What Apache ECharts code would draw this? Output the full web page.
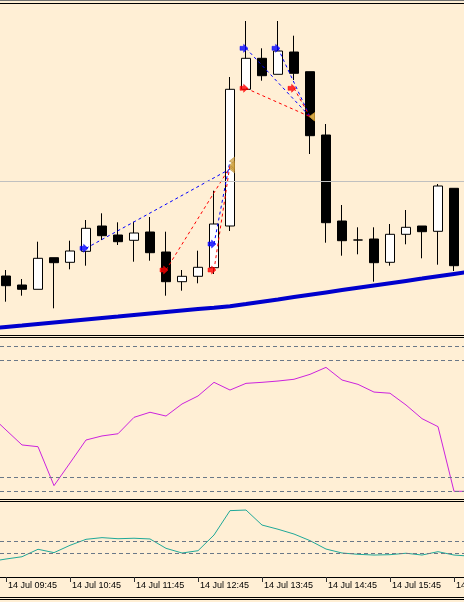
<!DOCTYPE html>
<html><head><meta charset="utf-8">
<script src="https://cdn.jsdelivr.net/npm/echarts@6/dist/echarts.min.js"></script>
<style>html,body{margin:0;padding:0;background:#FFEFD5}#c{width:464px;height:602px}</style>
</head><body><div id="c"></div>
<script>
// ---- data ----
const candleTimes = ['09:45','10:00','10:15','10:30','10:45','11:00','11:15','11:30','11:45','12:00','12:15','12:30','12:45','13:00','13:15','13:30','13:45','14:00','14:15','14:30','14:45','15:00','15:15','15:30','15:45','16:00','16:15','16:30','16:45'];
const tickIndex = [0,4,8,12,16,20,24,28];
const tickLabels = ['14 Jul 09:45','14 Jul 10:45','14 Jul 11:45','14 Jul 12:45','14 Jul 13:45','14 Jul 14:45','14 Jul 15:45','14 Jul 16:45'];

const opens  = [87.550,87.460,87.417,87.733,87.687,87.797,88.050,87.960,87.907,87.990,87.790,87.493,87.547,87.633,88.050,89.417,89.727,89.567,89.790,89.593,88.960,88.100,87.910,87.920,87.687,87.967,88.050,87.997,88.427];
const highs  = [87.610,87.520,87.893,87.733,87.903,88.110,88.177,88.087,88.093,88.140,87.993,87.610,87.803,88.403,89.540,90.100,89.827,90.100,89.953,89.593,89.070,88.260,88.037,88.037,88.070,88.210,88.050,88.470,88.427];
const lows   = [87.293,87.353,87.417,87.227,87.617,87.653,87.910,87.860,87.693,87.703,87.353,87.403,87.477,87.570,88.000,89.417,89.503,89.567,89.510,88.770,87.883,87.753,87.767,87.493,87.653,87.867,87.727,87.663,87.600];
const closes = [87.453,87.417,87.727,87.683,87.800,88.027,87.953,87.893,87.980,87.783,87.493,87.547,87.637,88.070,89.417,89.727,89.553,89.800,89.577,88.953,88.083,87.903,87.910,87.683,87.967,88.037,87.993,88.450,87.653];

// indicator values at bar index -1 .. 29 (first and last lie just beyond the visible edges)
const lineIndex = [-1,0,1,2,3,4,5,6,7,8,9,10,11,12,13,14,15,16,17,18,19,20,21,22,23,24,25,26,27,28,29];
const maValues = [87.026,87.041,87.055,87.070,87.085,87.100,87.115,87.130,87.144,87.159,87.174,87.189,87.204,87.219,87.233,87.248,87.270,87.293,87.316,87.340,87.363,87.386,87.409,87.432,87.455,87.478,87.501,87.524,87.548,87.571,87.594];
const stochValues = [52.6,42.2,31.9,30.7,3.9,19.5,35.3,38.1,39.6,50.9,54.4,51.8,60.1,65.6,75.0,69.7,74.3,75.0,75.9,77.1,80.5,85.3,76.6,73.6,68.3,67.5,59.4,50.0,44.5,0,0];
const adxValues = [12.8,15.0,16.9,23.1,20.3,26.4,31.4,32.8,31.9,32.3,31.7,23.9,20.0,21.9,35.0,55.3,55.8,43.3,39.8,35.8,30.3,23.3,20.0,18.9,18.3,18.6,19.8,18.3,21.1,18.3,17.4];
const stochLevels = [0,10,90,100];
const adxLevels = [20,30];
const priceLine = 88.50;

// trades
const tradeType  = ['buy','sell','buy','sell','buy','sell','buy','sell'];
const openIndex  = [5,10,13,13,15,15,17,18];
const openPrice  = [87.827,87.610,87.870,87.610,89.827,89.427,89.827,89.427];
const closeIndex = [14,14,14,14,19,19,19,19];
const closePrice = [88.620,88.640,88.700,88.660,89.143,89.143,89.143,89.143];

// ---- chart ----
const BG = '#FFEFD5';
const chart = echarts.init(document.getElementById('c'), null, {renderer: 'canvas'});
const FONT = 'Liberation Sans';

const candleData = candleTimes.map((t, i) => [i, opens[i], closes[i], lows[i], highs[i]]);
const zip = (xs, ys) => xs.map((x, i) => [x, ys[i]]);

function xAx(i) {
  return {
    type: 'value', gridIndex: i, min: -0.375, max: 28.625,
    show: i === 2,
    axisLine: {show: true, lineStyle: {color: '#000', width: 1}},
    axisTick: {show: true, customValues: tickIndex, length: 5, lineStyle: {color: '#303030'}},
    axisLabel: {
      show: true, customValues: tickIndex,
      formatter: v => { const j = tickIndex.indexOf(Math.round(v)); return j >= 0 ? tickLabels[j] : ''; },
      align: 'left', margin: 4, padding: [0, 0, 0, 2],
      fontFamily: FONT, fontSize: 9, color: '#000'
    },
    splitLine: {show: false}
  };
}

const series = [];
// reference price line (beneath candles)
series.push({
  type: 'line', xAxisIndex: 0, yAxisIndex: 0, data: [], z: 1, silent: true,
  markLine: {silent: true, symbol: 'none', label: {show: false}, animation: false,
    lineStyle: {color: '#c0c0c0', type: 'solid', width: 1},
    data: [{yAxis: priceLine}]}
});
series.push({
  type: 'candlestick', xAxisIndex: 0, yAxisIndex: 0, z: 2, silent: true,
  barWidth: 10,
  encode: {x: 0, y: [1, 2, 3, 4]},
  itemStyle: {color: '#ffffff', color0: '#000000', borderColor: '#000000', borderColor0: '#000000', borderColorDoji: '#000000', borderWidth: 1},
  data: candleData
});
series.push({
  type: 'line', xAxisIndex: 0, yAxisIndex: 0, z: 3, silent: true,
  data: zip(lineIndex, maValues), symbol: 'none',
  lineStyle: {color: '#0000cd', width: 4}
});
// trade connection lines
tradeType.forEach((tp, i) => {
  series.push({
    type: 'line', xAxisIndex: 0, yAxisIndex: 0, z: 4, silent: true, symbol: 'none',
    data: [[openIndex[i], openPrice[i]], [closeIndex[i], closePrice[i]]],
    lineStyle: {color: tp === 'buy' ? '#0000ff' : '#ff0000', width: 1, type: [3, 3]}
  });
});
const arrowPath = 'path://M0,2.5L4.5,2.5L4.5,0L10,5L4.5,10L4.5,7.5L0,7.5Z';
series.push({
  type: 'scatter', xAxisIndex: 0, yAxisIndex: 0, z: 5, silent: true,
  symbol: arrowPath, symbolSize: [8, 8], symbolOffset: [-2, 0],
  data: tradeType.map((tp, i) => ({value: [openIndex[i], openPrice[i]],
    itemStyle: {color: tp === 'buy' ? '#0000ff' : '#ff0000', borderColor: tp === 'buy' ? '#0000ff' : '#ff0000', borderWidth: 0.6}}))
});
series.push({
  type: 'scatter', xAxisIndex: 0, yAxisIndex: 0, z: 5, silent: true,
  symbol: 'path://M6,0L0,5L6,10Z', symbolSize: [5, 8], symbolOffset: [2, 0],
  itemStyle: {color: '#d2a646', borderColor: '#a87a20', borderWidth: 0.5},
  data: tradeType.map((tp, i) => [closeIndex[i], closePrice[i]])
});
// oscillator panel
series.push({
  type: 'line', xAxisIndex: 1, yAxisIndex: 1, z: 3, silent: true, symbol: 'none',
  data: zip(lineIndex, stochValues),
  lineStyle: {color: '#cc22dd', width: 1},
  markLine: {silent: true, symbol: 'none', label: {show: false}, animation: false,
    lineStyle: {color: '#6a7888', type: [4, 3], width: 1},
    data: stochLevels.map(v => ({yAxis: v}))}
});
// lower panel
series.push({
  type: 'line', xAxisIndex: 2, yAxisIndex: 2, z: 3, silent: true, symbol: 'none',
  data: zip(lineIndex, adxValues),
  lineStyle: {color: '#20a898', width: 1},
  markLine: {silent: true, symbol: 'none', label: {show: false}, animation: false,
    lineStyle: {color: '#6a7888', type: [4, 3], width: 1},
    data: adxLevels.map(v => ({yAxis: v}))}
});

function hline(y, color) {
  return {type: 'line', z: 100, silent: true, shape: {x1: 0, y1: y + 0.5, x2: 464, y2: y + 0.5}, style: {stroke: color, lineWidth: 1}};
}

chart.setOption({
  animation: false,
  backgroundColor: BG,
  grid: [
    {left: 0, top: 4, width: 464, height: 331, outerBoundsMode: 'none', containLabel: false},
    {left: 0, top: 337, width: 464, height: 162, outerBoundsMode: 'none', containLabel: false},
    {left: 0, top: 502, width: 464, height: 75, outerBoundsMode: 'none', containLabel: false}
  ],
  xAxis: [xAx(0), xAx(1), xAx(2)],
  yAxis: [
    {type: 'value', gridIndex: 0, min: 86.96, max: 90.27, show: false, splitLine: {show: false}},
    {type: 'value', gridIndex: 1, min: -5.3, max: 106.2, show: false, splitLine: {show: false}},
    {type: 'value', gridIndex: 2, min: 0, max: 62.5, show: false, splitLine: {show: false}}
  ],
  series: series,
  graphic: [
    hline(0, '#707070'), hline(3, '#000'),
    hline(335, '#000'), hline(337, '#000'),
    hline(499, '#000'), hline(501, '#000'),
    hline(597, '#000'), hline(599, '#000')
  ]
});
</script>
</body></html>
